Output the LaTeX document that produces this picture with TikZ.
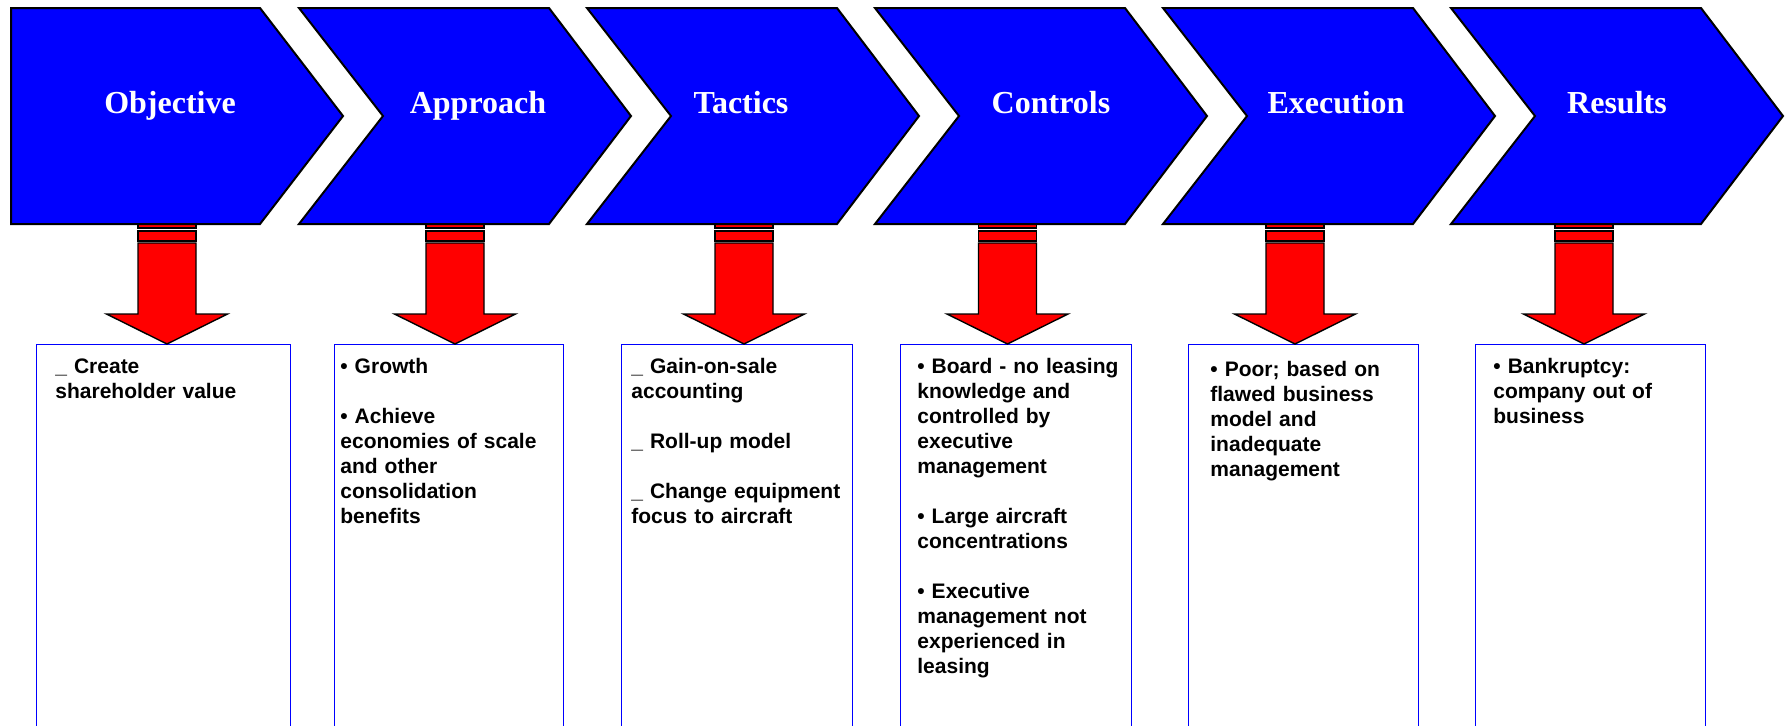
\documentclass[tikz,border=0pt]{standalone}
\usepackage{fontspec}
\setmainfont{Liberation Serif}
\setsansfont{Liberation Sans}
\usepackage{tikz}
\usetikzlibrary{positioning}
\tikzset{
    stage/.style={
           draw=black, line width=1pt,
           fill=blue,
           line join=miter,
           },
}
\tikzset{
    stagelabel/.style={
           text=white,
           font=\rmfamily\bfseries\fontsize{16}{19}\selectfont,
           anchor=base,
           inner sep=0pt,
           },
}
\tikzset{
    drop/.style={
           draw=black, line width=0.7pt,
           fill=red,
           },
}
\tikzset{
    infobox/.style={
           rectangle,
           draw=blue, line width=0.7pt,
           anchor=north west,
           inner sep=0pt,
           minimum height=200pt,
           },
}
\tikzset{
    infotext/.style={
           anchor=base west,
           inner sep=0pt,
           text width=110pt,
           align=left,
           font=\sffamily\bfseries\fontsize{10.5}{12.5}\selectfont,
           },
}

\begin{document}
\begin{tikzpicture}[x=0.5pt,y=-0.5pt]
\useasboundingbox (0,0) rectangle (1785,725);
\clip (0,0) rectangle (1785,725);

% boxes below the stages
\node[infobox,minimum width=127.25pt](box1) at (35.5,344){};
\node[infobox,minimum width=114.75pt](box2) at (333.5,344){};
\node[infobox,minimum width=115.5pt](box3) at (621,344){};
\node[infobox,minimum width=115.5pt](box4) at (900,344){};
\node[infobox,minimum width=115pt](box5) at (1188,344){};
\node[infobox,minimum width=115pt](box6) at (1475,344){};

% arrow tips on the box tops
\coordinate (drop1) at (167,344);
\coordinate (drop2) at (455,344);
\coordinate (drop3) at (744,344);
\coordinate (drop4) at (1007.5,344);
\coordinate (drop5) at (1295,344);
\coordinate (drop6) at (1584,344);

\draw[drop,shift={(drop1)}] (-29,-101) -- (29,-101) -- (29,-30) -- (60.5,-30) -- (0,0) -- (-60.5,-30) -- (-29,-30) -- cycle;
\draw[drop,shift={(drop2)}] (-29,-101) -- (29,-101) -- (29,-30) -- (60.5,-30) -- (0,0) -- (-60.5,-30) -- (-29,-30) -- cycle;
\draw[drop,shift={(drop3)}] (-29,-101) -- (29,-101) -- (29,-30) -- (60.5,-30) -- (0,0) -- (-60.5,-30) -- (-29,-30) -- cycle;
\draw[drop,shift={(drop4)}] (-29,-101) -- (29,-101) -- (29,-30) -- (60.5,-30) -- (0,0) -- (-60.5,-30) -- (-29,-30) -- cycle;
\draw[drop,shift={(drop5)}] (-29,-101) -- (29,-101) -- (29,-30) -- (60.5,-30) -- (0,0) -- (-60.5,-30) -- (-29,-30) -- cycle;
\draw[drop,shift={(drop6)}] (-29,-101) -- (29,-101) -- (29,-30) -- (60.5,-30) -- (0,0) -- (-60.5,-30) -- (-29,-30) -- cycle;
\draw[drop,shift={(drop1)}] (-29,-121) rectangle (29,-116) (-29,-113) rectangle (29,-103);
\draw[drop,shift={(drop2)}] (-29,-121) rectangle (29,-116) (-29,-113) rectangle (29,-103);
\draw[drop,shift={(drop3)}] (-29,-121) rectangle (29,-116) (-29,-113) rectangle (29,-103);
\draw[drop,shift={(drop4)}] (-29,-121) rectangle (29,-116) (-29,-113) rectangle (29,-103);
\draw[drop,shift={(drop5)}] (-29,-121) rectangle (29,-116) (-29,-113) rectangle (29,-103);
\draw[drop,shift={(drop6)}] (-29,-121) rectangle (29,-116) (-29,-113) rectangle (29,-103);

% stages
\draw[stage] (11,8) -- (260,8) -- (343,116) -- (260,224) -- (11,224) -- cycle;
\draw[stage] (299,8) -- (549,8) -- (631,116) -- (549,224) -- (299,224) -- (383,116) -- cycle;
\draw[stage] (587,8) -- (837,8) -- (919,116) -- (837,224) -- (587,224) -- (671,116) -- cycle;
\draw[stage] (875,8) -- (1125,8) -- (1207,116) -- (1125,224) -- (875,224) -- (959,116) -- cycle;
\draw[stage] (1163,8) -- (1413,8) -- (1495,116) -- (1413,224) -- (1163,224) -- (1247,116) -- cycle;
\draw[stage] (1451,8) -- (1701,8) -- (1783,116) -- (1701,224) -- (1451,224) -- (1535,116) -- cycle;

\node[stagelabel](objective) at (170,113){Objective};
\node[stagelabel](approach) at (478,113){Approach};
\node[stagelabel](tactics) at (741,113){Tactics};
\node[stagelabel](controls) at (1051,113){Controls};
\node[stagelabel](execution) at (1336,113){Execution};
\node[stagelabel](results) at (1617,113){Results};

% box texts
\node[infotext](text1) at (55,373){\_ Create\\shareholder value};
\node[infotext](text2) at (340,373){• Growth\\[12.5pt]• Achieve\\economies of scale\\and other\\consolidation\\benefits};
\node[infotext](text3) at (631,373){\_ Gain-on-sale\\accounting\\[12.5pt]\_ Roll-up model\\[12.5pt]\_ Change equipment\\focus to aircraft};
\node[infotext](text4) at (917,373){• Board - no leasing\\knowledge and\\controlled by\\executive\\management\\[12.5pt]• Large aircraft\\concentrations\\[12.5pt]• Executive\\management not\\experienced in\\leasing};
\node[infotext](text5) at (1210,376){• Poor; based on\\flawed business\\model and\\inadequate\\management};
\node[infotext](text6) at (1493,373){• Bankruptcy:\\company out of\\business};
\end{tikzpicture}
\end{document}
